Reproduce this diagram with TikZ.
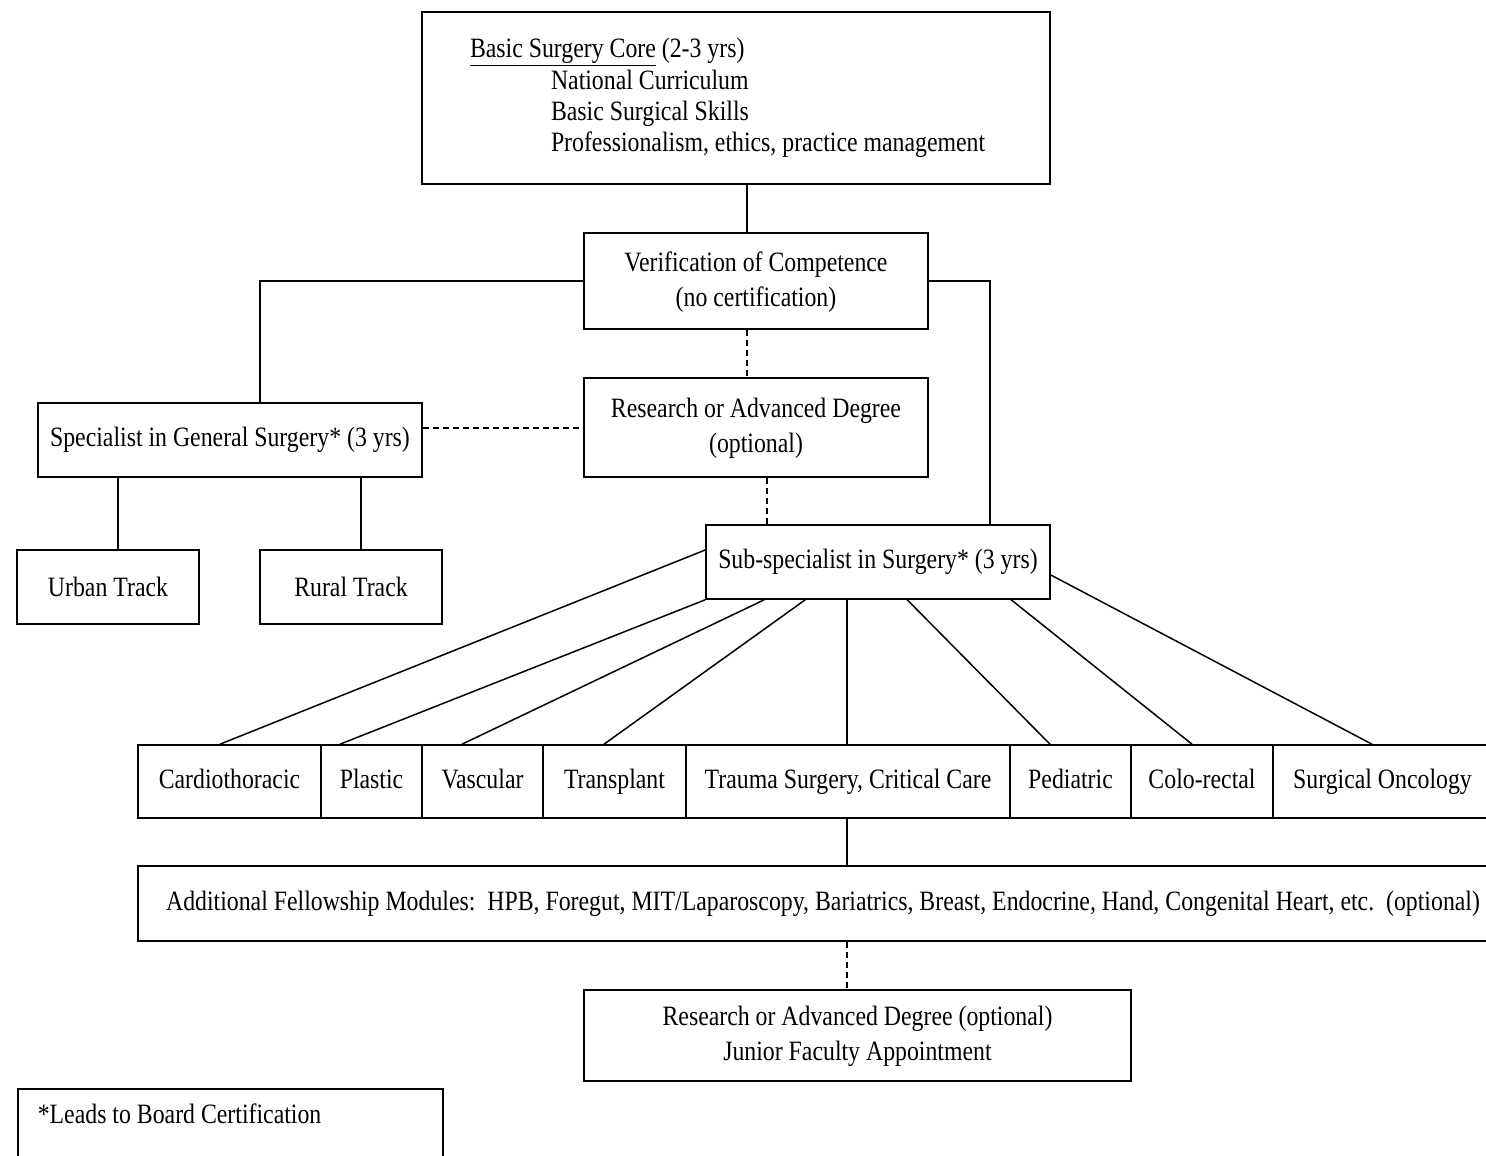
\documentclass[tikz,border=0pt]{standalone}
\usepackage{fontspec}
\setmainfont{Liberation Serif}[FakeStretch=0.85]
\usetikzlibrary{calc}
\tikzset{
  box/.style={draw, line width=1.6pt, inner sep=0pt, align=center, font=\fontsize{28}{35}\selectfont},
  conn/.style={line width=1.5pt},
  dconn/.style={line width=1.5pt, dash pattern=on 6pt off 4pt},
}
\begin{document}
\begin{tikzpicture}[x=1pt,y=-1pt]
\useasboundingbox (0,0) rectangle (1486,1156);
\node[box, minimum width=628, minimum height=172, text width=560, align=flush left, font=\fontsize{28}{31.3}\selectfont] (core) at (736,98)
 {\hspace*{14pt}\underline{Basic Surgery Core} (2-3 yrs)\\
  \hspace*{95pt}National Curriculum\\
  \hspace*{95pt}Basic Surgical Skills\\
  \hspace*{95pt}Professionalism, ethics, practice management};
\node[box, minimum width=344, minimum height=96, text depth=4pt] (verif) at (756,281) {Verification of Competence\\(no certification)};
\node[box, minimum width=344, minimum height=99, text depth=4pt] (res1) at (756,427.5) {Research or Advanced Degree\\(optional)};
\node[box, minimum width=384, minimum height=74] (gen) at (230,440) {Specialist in General Surgery* (3 yrs)};
\node[box, minimum width=182, minimum height=74] (urban) at (108,587) {Urban Track};
\node[box, minimum width=182, minimum height=74] (rural) at (351,587) {Rural Track};
\node[box, minimum width=344, minimum height=74] (sub) at (878,562) {Sub-specialist in Surgery* (3 yrs)};
\tikzset{spec/.style={box, minimum height=73, text height=20pt, text depth=6pt}}
\node[spec, minimum width=183] (cardio) at (229.5,781.5) {Cardiothoracic};
\node[spec, minimum width=101] (plastic) at (371.5,781.5) {Plastic};
\node[spec, minimum width=121] (vasc) at (482.5,781.5) {Vascular};
\node[spec, minimum width=143] (trans) at (614.5,781.5) {Transplant};
\node[spec, minimum width=324] (trauma) at (848,781.5) {Trauma Surgery, Critical Care};
\node[spec, minimum width=121] (ped) at (1070.5,781.5) {Pediatric};
\node[spec, minimum width=142] (colo) at (1202,781.5) {Colo-rectal};
\node[spec, minimum width=219] (onc) at (1382.5,781.5) {Surgical Oncology};
\node[box, minimum width=1370, minimum height=75] (fellow) at (823,903.5) {Additional Fellowship Modules:\ \ HPB, Foregut, MIT/Laparoscopy, Bariatrics, Breast, Endocrine, Hand, Congenital Heart, etc.\ \ (optional)};
\node[box, minimum width=547, minimum height=91, text depth=4pt] (final) at (857.5,1035.5) {Research or Advanced Degree (optional)\\Junior Faculty Appointment};
\node[box, anchor=north west, minimum width=425, minimum height=85, text width=385, align=flush left, inner ysep=15pt] (legend) at (17,1088) {*Leads to Board Certification\\ \strut};
% connectors
\draw[conn] ([xshift=11pt]core.south) -- ([xshift=-9pt]verif.north);
\draw[conn] (verif.west) -| ([xshift=30pt]gen.north);
\draw[conn] (verif.east) -| ([xshift=112pt]sub.north);
\draw[dconn] ([xshift=-9pt]verif.south) -- ([xshift=-9pt]res1.north);
\draw[dconn] ([yshift=12pt]gen.east) -- ([yshift=12pt]gen.east -| res1.west);
\draw[conn] ([xshift=10pt]urban.north) -- ([xshift=10pt]urban.north |- gen.south);
\draw[conn] ([xshift=10pt]rural.north) -- ([xshift=10pt]rural.north |- gen.south);
\draw[dconn] ([xshift=11pt]res1.south) -- ([xshift=11pt]res1.south |- sub.north);
\draw[conn] ([yshift=12pt]sub.west) -- ([xshift=-9.5pt]cardio.north);
\draw[conn] (sub.south west) -- ([xshift=-31.5pt]plastic.north);
\draw[conn] ([xshift=59pt]sub.south west) -- ([xshift=-20.5pt]vasc.north);
\draw[conn] ([xshift=100pt]sub.south west) -- ([xshift=-10.5pt]trans.north);
\draw[conn] ([xshift=-1pt]trauma.north |- sub.south) -- ([xshift=-1pt]trauma.north);
\draw[conn] ([xshift=202pt]sub.south west) -- ([xshift=-20.5pt]ped.north);
\draw[conn] ([xshift=306pt]sub.south west) -- ([xshift=-10pt]colo.north);
\draw[conn] ([yshift=-13pt]sub.east) -- ([xshift=-10.5pt]onc.north);
\draw[conn] ([xshift=-1pt]trauma.south) -- ([xshift=-1pt]trauma.south |- fellow.north);
\draw[dconn] ([xshift=-10.5pt]final.north |- fellow.south) -- ([xshift=-10.5pt]final.north);
\end{tikzpicture}
\end{document}
